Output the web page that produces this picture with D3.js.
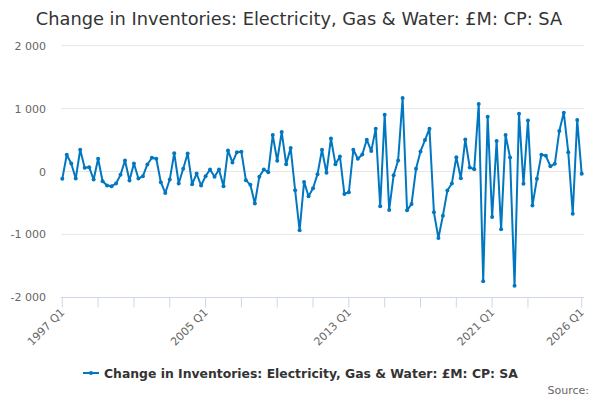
<!DOCTYPE html>
<html><head><meta charset="utf-8">
<script src="https://cdn.jsdelivr.net/npm/d3@7"></script>
<style>body{margin:0;background:#fff;} svg{display:block;font-family:"DejaVu Sans",sans-serif;}</style>
</head><body><svg id="c" width="600" height="400"></svg>
<script>
const title = "Change in Inventories: Electricity, Gas & Water: £M: CP: SA";
const seriesName = "Change in Inventories: Electricity, Gas & Water: £M: CP: SA";
const startYear = 1997;
const values = [-117, 266, 128, -112, 346, 59, 69, -128, 202, -154,
 -223, -234, -191, -53, 175, -144, 128, -112, -74, 112,
 218, 202, -170, -340, -128, 292, -191, 43, 287, -202,
 -32, -223, -74, 32, -85, 32, -234, 335, 144, 308,
 313, -138, -212, -510, -85, 32, -11, 579, 171, 627,
 117, 372, -298, -936, -165, -393, -266, -42, 346, -21,
 526, 117, 239, -356, -330, 346, 202, 271, 505, 324,
 681, -553, 904, -611, -59, 175, 1169, -617, -515, 43,
 319, 499, 681, -649, -1058, -702, -303, -191, 228, -106,
 510, 64, 37, 1074, -1743, 872, -723, 483, -920, 579,
 223, -1818, 920, -196, 809, -542, -117, 266, 250, 85,
 122, 643, 936, 308, -670, 818, -37];
const categories = values.map((v,i)=> (startYear+Math.floor(i/4))+" Q"+(i%4+1));
const yTicks = [-2000,-1000,0,1000,2000];
const xTickLabels = ["1997 Q1","2005 Q1","2013 Q1","2021 Q1","2026 Q1"];
const xTickMarks = ["1997 Q1","1999 Q1","2001 Q1","2003 Q1","2005 Q1","2007 Q1","2009 Q1","2011 Q1","2013 Q1","2015 Q1","2017 Q1","2019 Q1","2021 Q1","2023 Q1","2026 Q1"];

const svg = d3.select("#c");
const color = "#0077c0";
const x = d3.scalePoint().domain(categories).range([62.3, 581.7]);
const y = d3.scaleLinear().domain([-2000,2000]).range([297.3, 45.7]);
const fmt = v => d3.format(",")(v).replace(/,/g," ").replace("\u2212","-");

svg.append("text").attr("x",299).attr("y",25).attr("text-anchor","middle")
  .attr("font-size",17.8).attr("fill","#333").text(title);

// grid
svg.append("g").selectAll("line").data(yTicks.filter(d=>d!==-2000)).join("line")
  .attr("x1",61).attr("x2",584).attr("y1",d=>y(d)).attr("y2",d=>y(d))
  .attr("stroke","#e6e6e6").attr("stroke-width",1);
svg.append("g").selectAll("text").data(yTicks).join("text")
  .attr("x",46).attr("y",d=>y(d)+4).attr("text-anchor","end")
  .attr("font-size",11).attr("fill","#666").text(fmt);

// x axis
svg.append("line").attr("x1",61).attr("x2",584).attr("y1",297.5).attr("y2",297.5).attr("stroke","#ccd6eb");
svg.append("g").selectAll("line").data(xTickMarks).join("line")
  .attr("x1",d=>x(d)).attr("x2",d=>x(d)).attr("y1",297.5).attr("y2",307.5).attr("stroke","#ccd6eb");
svg.append("g").selectAll("text").data(xTickLabels).join("text")
  .attr("transform",d=>`translate(${x(d)+3},${313}) rotate(-45)`).attr("text-anchor","end")
  .attr("font-size",11).attr("fill","#666").text(d=>d);

// series
const line = d3.line().x((d,i)=>x(categories[i])).y(d=>y(d));
svg.append("path").datum(values).attr("d",line).attr("fill","none")
  .attr("stroke",color).attr("stroke-width",2).attr("stroke-linejoin","round");
svg.append("g").selectAll("circle").data(values).join("circle")
  .attr("cx",(d,i)=>x(categories[i])).attr("cy",d=>y(d)).attr("r",2).attr("fill",color);

// legend
svg.append("line").attr("x1",83).attr("x2",99).attr("y1",373).attr("y2",373).attr("stroke",color).attr("stroke-width",2);
svg.append("circle").attr("cx",91).attr("cy",373).attr("r",2).attr("fill",color);
svg.append("text").attr("x",104).attr("y",377.5).attr("font-size",12.4).attr("font-weight","bold").attr("fill","#333").text(seriesName);
svg.append("text").attr("x",589).attr("y",394).attr("text-anchor","end").attr("font-size",11).attr("fill","#666").text("Source:");
</script></body></html>
